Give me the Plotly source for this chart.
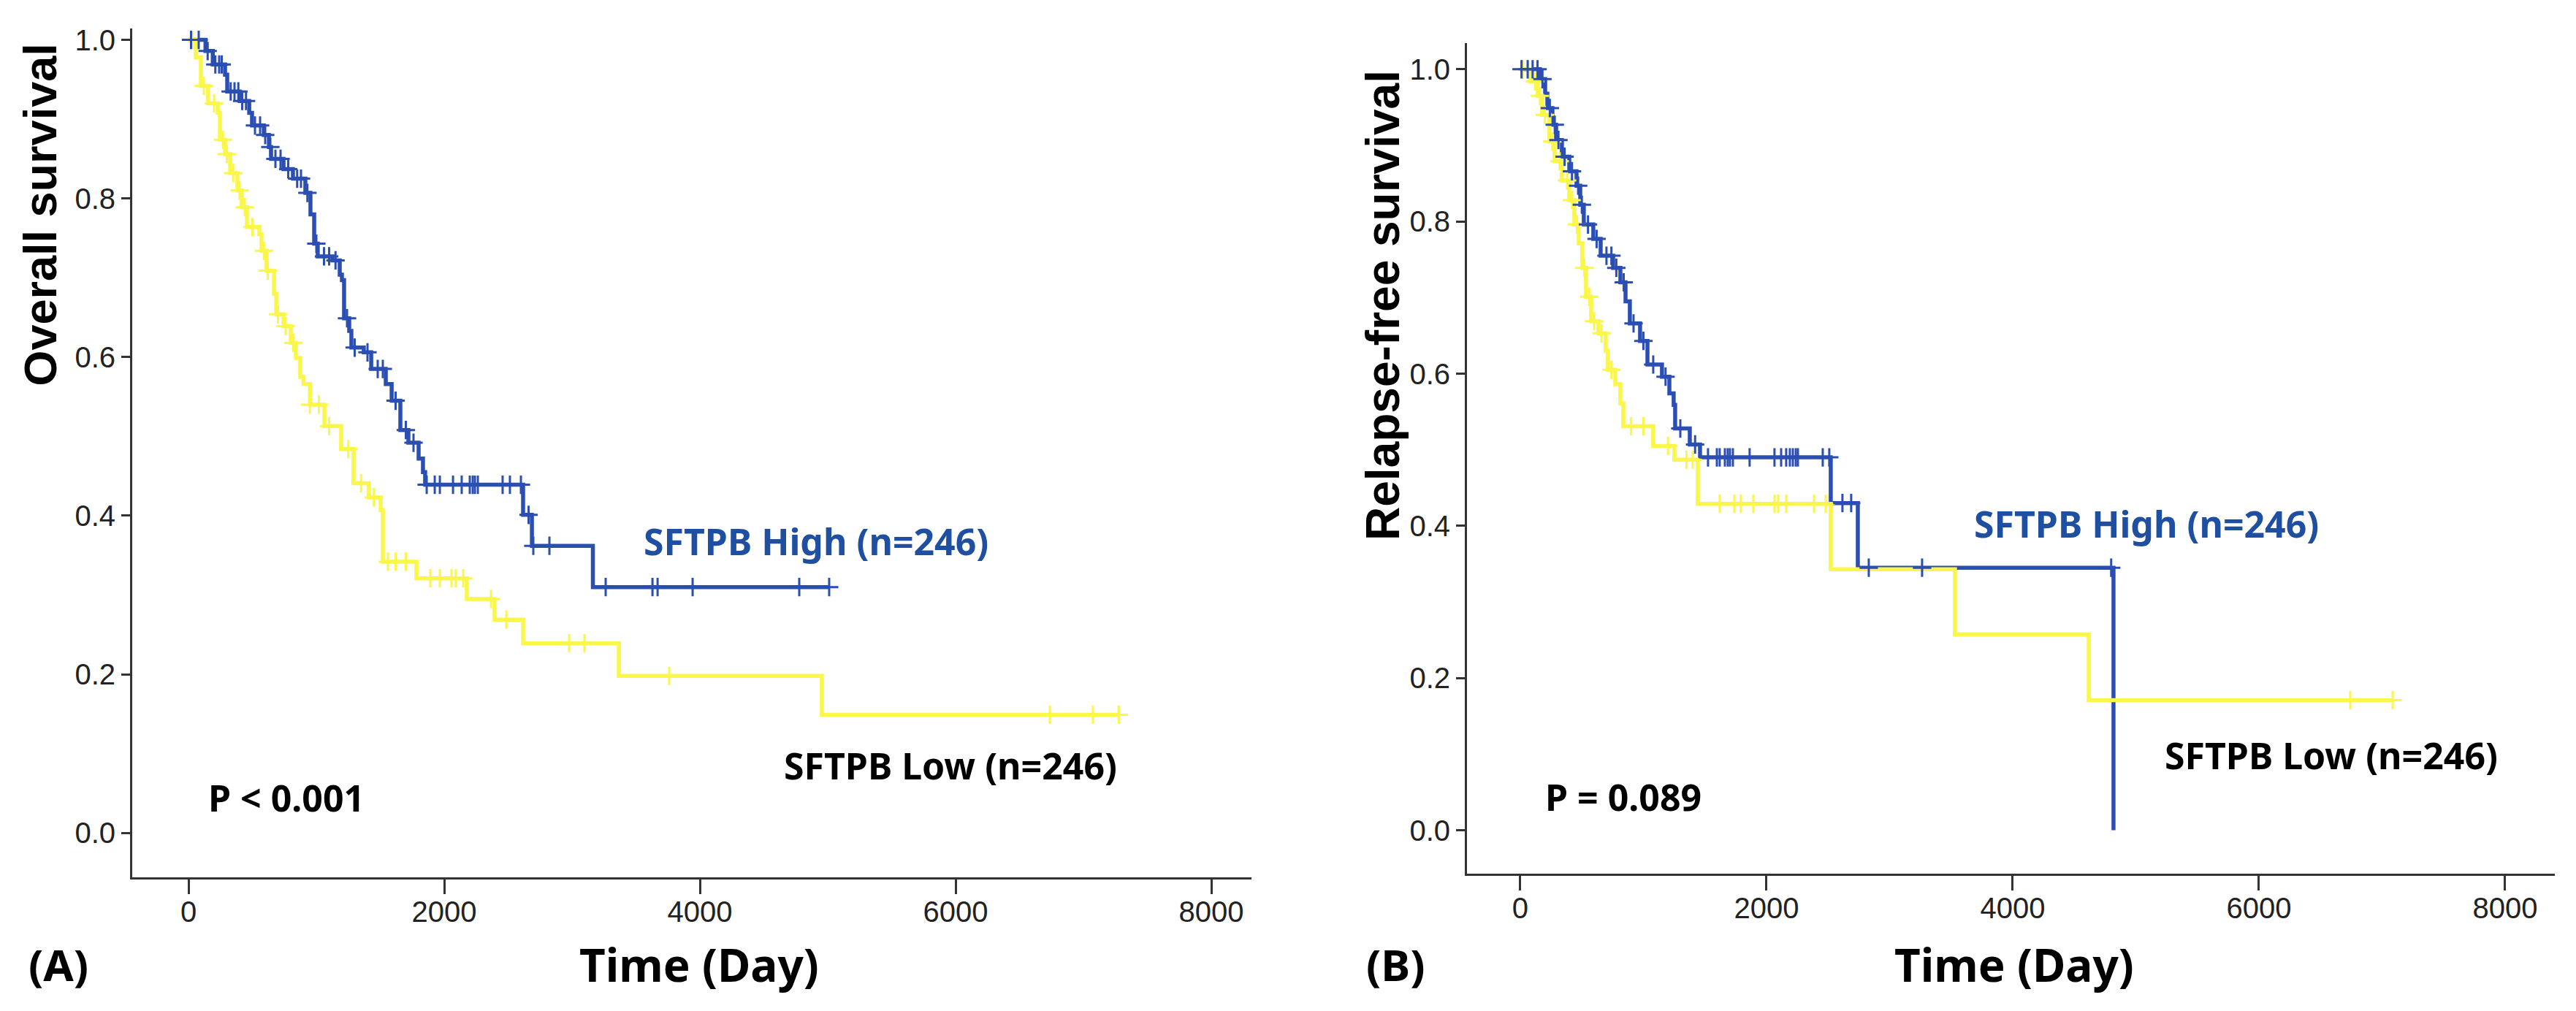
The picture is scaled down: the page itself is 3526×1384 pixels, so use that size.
import numpy as np
import plotly.graph_objects as go

# ---- (A) overall survival ----
os_high_t = [0, 133, 190, 286, 303, 400, 475, 497, 589, 629, 646, 743, 817, 914, 954, 983,
             1011, 1126, 1183, 1200, 1217, 1257, 1274, 1371, 1429, 1543, 1589, 1657, 1720,
             1800, 1834, 1851, 2617, 2686, 3163, 5011]
os_high_s = [1.0, 0.986, 0.969, 0.956, 0.935, 0.923, 0.908, 0.892, 0.880, 0.865, 0.850, 0.837,
             0.825, 0.807, 0.780, 0.743, 0.727, 0.722, 0.704, 0.697, 0.649, 0.633, 0.612, 0.606,
             0.585, 0.566, 0.545, 0.508, 0.492, 0.472, 0.455, 0.439, 0.401, 0.362, 0.310, 0.310]
os_high_cens = [20, 80, 150, 210, 240, 260, 330, 360, 390, 420, 450, 520, 560, 600, 640, 680,
                720, 780, 850, 880, 930, 1000, 1060, 1100, 1150, 1240, 1300, 1400, 1480, 1520,
                1620, 1700, 1760, 1863, 1926, 1966, 2069, 2137, 2200, 2223, 2240, 2263, 2457,
                2514, 2600, 2660, 2697, 2823, 3263, 3629, 3669, 3943, 4777, 5011]

os_low_t = [0, 57, 97, 154, 229, 246, 286, 326, 383, 417, 457, 554, 571, 611, 669, 686, 743,
            800, 840, 874, 900, 950, 1063, 1194, 1291, 1411, 1503, 1520, 1783, 2177, 2394,
            2617, 3366, 4954, 7276]
os_low_s = [1.0, 0.978, 0.942, 0.920, 0.908, 0.874, 0.856, 0.832, 0.810, 0.789, 0.764, 0.755,
            0.734, 0.709, 0.680, 0.654, 0.639, 0.618, 0.599, 0.575, 0.566, 0.540, 0.513, 0.484,
            0.441, 0.423, 0.407, 0.342, 0.321, 0.295, 0.269, 0.239, 0.198, 0.149, 0.149]
os_low_cens = [30, 120, 200, 270, 300, 350, 400, 440, 500, 590, 620, 700, 760, 820, 950, 1020,
               1100, 1250, 1350, 1450, 1560, 1620, 1700, 1891, 1966, 2057, 2091, 2149, 2366,
               2486, 2977, 3097, 3760, 6737, 7074, 7276]

# ---- (B) relapse-free survival ----
rfs_high_t = [0, 160, 202, 220, 261, 291, 338, 398, 457, 487, 516, 593, 653, 754, 813, 855,
              890, 973, 1033, 1151, 1211, 1246, 1258, 1377, 1460, 2522, 2742, 4819]
rfs_high_s = [1.0, 0.987, 0.968, 0.949, 0.927, 0.907, 0.885, 0.866, 0.847, 0.822, 0.796, 0.777,
              0.755, 0.739, 0.720, 0.695, 0.666, 0.643, 0.612, 0.596, 0.574, 0.559, 0.528,
              0.507, 0.490, 0.430, 0.345, 0.0]
rfs_high_cens = [10, 60, 100, 140, 180, 240, 280, 310, 360, 420, 470, 500, 550, 620, 700, 740,
                 780, 840, 920, 1000, 1080, 1180, 1300, 1420, 1525, 1597, 1620, 1662, 1685,
                 1703, 1727, 1863, 2065, 2119, 2160, 2190, 2214, 2238, 2255, 2457, 2510, 2617,
                 2688, 2831, 3264, 4800]

rfs_low_t = [0, 83, 142, 178, 237, 279, 338, 398, 439, 475, 504, 534, 576, 635, 694, 712, 772,
             813, 837, 1080, 1252, 1442, 2522, 3531, 4618, 7087]
rfs_low_s = [1.0, 0.984, 0.965, 0.940, 0.905, 0.879, 0.854, 0.828, 0.796, 0.771, 0.739, 0.701,
             0.669, 0.653, 0.630, 0.605, 0.586, 0.561, 0.531, 0.505, 0.487, 0.429, 0.343,
             0.257, 0.171, 0.171]
rfs_low_cens = [20, 60, 120, 160, 200, 260, 320, 380, 420, 460, 520, 560, 600, 660, 740, 900,
                1000, 1200, 1350, 1400, 1620, 1739, 1792, 1893, 2065, 2095, 2160, 2386, 2481,
                6742, 7087]

x_ticks = [0, 2000, 4000, 6000, 8000]
y_ticks = [0.0, 0.2, 0.4, 0.6, 0.8, 1.0]

BLUE = '#2B4EB2'
BLUE_TXT = '#1F4FA0'
YELLOW = '#FAF64A'

W, H = 3526, 1384


def step_at(t, s, c):
    # survival value of the step curve at censor times
    idx = np.searchsorted(np.array(t), np.array(c), side='right') - 1
    return np.array(s)[np.clip(idx, 0, len(s) - 1)]


def km_traces(t, s, cens, color, xa, ya):
    line = go.Scatter(x=t, y=s, mode='lines', line=dict(color=color, width=5.5, shape='hv'),
                      xaxis=xa, yaxis=ya, showlegend=False, hoverinfo='skip')
    marks = go.Scatter(x=cens, y=step_at(t, s, cens), mode='markers',
                       marker=dict(symbol='cross-thin', size=18, line=dict(color=color, width=3)),
                       xaxis=xa, yaxis=ya, showlegend=False, hoverinfo='skip')
    return line, marks


fig = go.Figure()
for xa, ya, hi, lo in [('x', 'y', (os_high_t, os_high_s, os_high_cens), (os_low_t, os_low_s, os_low_cens)),
                       ('x2', 'y2', (rfs_high_t, rfs_high_s, rfs_high_cens), (rfs_low_t, rfs_low_s, rfs_low_cens))]:
    hl, hm = km_traces(*hi, BLUE, xa, ya)
    ll, lm = km_traces(*lo, YELLOW, xa, ya)
    fig.add_traces([hl, ll, lm, hm])

tick_font = dict(family='Liberation Sans, Arial, sans-serif', size=40, color='#222222')
ax_common = dict(showline=True, linecolor='#333333', linewidth=3, showgrid=False, zeroline=False,
                 ticks='outside', tickcolor='#333333', tickwidth=2.5, tickfont=tick_font,
                 mirror=False)

fig.update_layout(
    width=W, height=H,
    margin=dict(l=0, r=0, t=0, b=0),
    paper_bgcolor='white', plot_bgcolor='white',
    xaxis=dict(domain=[173 / W, 1705 / W], range=[-440, 8314], tickvals=x_ticks, ticklen=20,
               ticklabelstandoff=-10, anchor='y', **ax_common),
    yaxis=dict(domain=[(H - 1192) / H, (H - 24.5) / H], range=[-0.056, 1.014], tickvals=y_ticks,
               tickformat='.1f', ticklen=12, anchor='x', **ax_common),
    xaxis2=dict(domain=[2000 / W, 3489 / W], range=[-433, 8404], tickvals=x_ticks, ticklen=20,
                ticklabelstandoff=-10, anchor='y2', **ax_common),
    yaxis2=dict(domain=[(H - 1187) / H, (H - 44.6) / H], range=[-0.057, 1.034], tickvals=y_ticks,
                tickformat='.1f', ticklen=12, anchor='x2', **ax_common),
)


def note(text, px, py, size, color='black', family='Noto Sans, sans-serif', angle=0, weight='bold'):
    fig.add_annotation(text=text, x=px / W, y=1 - py / H, xref='paper', yref='paper',
                       xanchor='center', yanchor='middle', showarrow=False, textangle=angle,
                       font=dict(family=family, size=size, color=color, weight=weight))


arial = 'Liberation Sans, Arial, sans-serif'
sp = '&#160;'
note('Overall survival', 47, 281, 63, family=arial, angle=-90)
note('Relapse-free survival', 1885, 405, 64, family=arial, angle=-90)
note('Time (Day)', 949, 1312, 62)
note('Time (Day)', 2749, 1312, 62)
note('(A)', 72, 1312, 60)
note('(B)', 1902, 1312, 60)
note('SFTPB High (n=246)', 1109, 730, 50, color=BLUE_TXT)
note('SFTPB High (n=246)', 2930, 706, 50, color=BLUE_TXT)
note('SFTPB Low (n=246)', 1293, 1038, 50)
note('SFTPB Low (n=246)', 3183, 1024, 50)
note('P' + sp + '&lt;' + sp + '0.001', 384, 1082, 50)
note('P' + sp + '=' + sp + '0.089', 2214, 1081, 50)

fig.write_html("out.html")
